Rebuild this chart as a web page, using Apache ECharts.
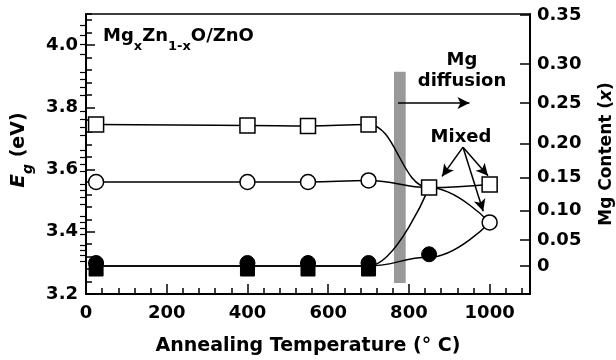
<!DOCTYPE html>
<html>
<head>
<meta charset="UTF-8">
<title>MgZnO/ZnO Eg vs annealing</title>
<script src="https://cdn.jsdelivr.net/npm/echarts@6/dist/echarts.min.js"></script>
</head>
<body style="margin:0">
<div id="main" style="width:616px;height:360px;"></div>
<script type="text/javascript">
// data
var temps = [25, 400, 550, 700, 850, 1000];
var openSquare = [3.745, 3.742, 3.740, 3.745, 3.542, 3.552];
var openCircle = [3.560, 3.560, 3.560, 3.565, 3.542, 3.430];
var filledSquare = [3.290, 3.290, 3.290, 3.290, 3.542];
var filledCircle = [3.290, 3.290, 3.290, 3.290, 3.318, 3.430];
// right axis: Mg content tick labels and where they sit on the Eg scale
var mgLabels = ['0', '0.05', '0.10', '0.15', '0.20', '0.25', '0.30', '0.35'];
var mgEg = [3.290, 3.373, 3.469, 3.574, 3.683, 3.814, 3.939, 4.096];
// grey "Mg diffusion" band (temperature range, Eg range)
var bandT = [763, 792];
var bandEg = [3.235, 3.914];

var FONT = '"DejaVu Sans", Verdana, sans-serif';

function pts(vals, hidden) {
    var out = [];
    for (var i = 0; i < vals.length; i++) {
        var d = { value: [temps[i], vals[i]] };
        if (hidden.indexOf(i) >= 0) d.symbol = 'none';
        out.push(d);
    }
    return out;
}

// minor ticks on the Mg axis: 4 between each pair of labels
var mgMinor = [];
for (var i = 0; i < mgEg.length - 1; i++) {
    for (var k = 1; k < 5; k++) {
        mgMinor.push(mgEg[i] + (mgEg[i + 1] - mgEg[i]) * k / 5);
    }
}

var myChart = echarts.init(document.getElementById('main'));

var lineBase = {
    type: 'line',
    smooth: 0.45,
    smoothMonotone: 'x',
    symbolSize: 15,
    lineStyle: { color: '#000', width: 1.5 },
    emphasis: { disabled: true },
    animation: false
};

// ticks point into the plot (negative length flips them inward)
function tick(len, w) {
    return { show: true, inside: false, length: -len, lineStyle: { color: '#000', width: w || 1.5 } };
}
var blackLine = { show: true, onZero: false, lineStyle: { color: '#000', width: 2 } };
var labelStyle = { color: '#000', fontFamily: FONT, fontWeight: 'bold', fontSize: 18 };

var option = {
    animation: false,
    grid: { left: 86, right: 86, top: 14, bottom: 66, outerBoundsMode: 'none', containLabel: false },
    xAxis: [{
        type: 'value', min: 0, max: 1100, interval: 200, position: 'bottom',
        axisLine: blackLine,
        axisTick: tick(10),
        axisLabel: Object.assign({ showMaxLabel: false, margin: 10, formatter: function (v) { return String(v); } }, labelStyle),
        splitLine: { show: false },
        name: 'Annealing Temperature (\u00b0 C)', nameLocation: 'middle', nameGap: 43,
        nameTextStyle: { color: '#000', fontFamily: FONT, fontWeight: 'bold', fontSize: 19 }
    }, {
        type: 'value', min: 0, max: 1100, interval: 40, position: 'bottom',
        axisLine: { show: false },
        axisTick: tick(6),
        axisLabel: { show: false },
        splitLine: { show: false }
    }, {
        type: 'value', min: 0, max: 1100, position: 'top',
        axisLine: { show: true, onZero: false, lineStyle: { color: '#000', width: 1.5 } },
        axisTick: { show: false },
        axisLabel: { show: false },
        splitLine: { show: false }
    }],
    yAxis: [{
        type: 'value', min: 3.2, max: 4.1, interval: 0.2, position: 'left',
        axisLine: blackLine,
        axisTick: tick(9),
        axisLabel: Object.assign({ showMaxLabel: false, margin: 8, formatter: function (v) { return v.toFixed(1); } }, labelStyle),
        splitLine: { show: false },
        name: '{e|E}{g|g}{t| (eV)}', nameLocation: 'middle', nameGap: 43, nameRotate: 90,
        nameTextStyle: {
            color: '#000', fontFamily: FONT, fontWeight: 'bold', padding: [0, 0, 0, 8],
            rich: {
                e: { fontFamily: FONT, fontWeight: 'bold', fontStyle: 'italic', fontSize: 20, lineHeight: 26, verticalAlign: 'top' },
                g: { fontFamily: FONT, fontWeight: 'bold', fontStyle: 'italic', fontSize: 14, lineHeight: 18, verticalAlign: 'bottom' },
                t: { fontFamily: FONT, fontWeight: 'bold', fontSize: 19, lineHeight: 26, verticalAlign: 'top' }
            }
        }
    }, {
        type: 'value', min: 3.2, max: 4.1, interval: 0.04, position: 'left',
        axisLine: { show: false },
        axisTick: tick(6),
        axisLabel: { show: false },
        splitLine: { show: false }
    }, {
        type: 'value', min: 3.2, max: 4.1, position: 'right',
        axisLine: blackLine,
        axisTick: Object.assign(tick(10), { customValues: mgEg }),
        axisLabel: Object.assign({
            customValues: mgEg, margin: 7,
            formatter: function (v) {
                var best = 0;
                for (var i = 1; i < mgEg.length; i++) {
                    if (Math.abs(mgEg[i] - v) < Math.abs(mgEg[best] - v)) best = i;
                }
                return mgLabels[best];
            }
        }, labelStyle),
        splitLine: { show: false },
        name: '{t|Mg Content (}{x|x}{t|)}', nameLocation: 'middle', nameGap: 68, nameRotate: 90,
        nameTextStyle: {
            color: '#000', fontFamily: FONT, fontWeight: 'bold',
            rich: {
                t: { fontFamily: FONT, fontWeight: 'bold', fontSize: 17 },
                x: { fontFamily: FONT, fontWeight: 'bold', fontStyle: 'italic', fontSize: 17 }
            }
        }
    }, {
        type: 'value', min: 3.2, max: 4.1, position: 'right',
        axisLine: { show: false },
        axisTick: Object.assign(tick(6, 1.2), { customValues: mgMinor }),
        axisLabel: { show: false },
        splitLine: { show: false }
    }],
    series: [
        {
            type: 'line', data: [], z: 1, silent: true,
            markArea: {
                silent: true,
                itemStyle: { color: '#999999', opacity: 1 },
                data: [[{ coord: [bandT[0], bandEg[1]] }, { coord: [bandT[1], bandEg[0]] }]]
            },
            markLine: {
                silent: true, symbol: ['none', 'arrow'], symbolSize: [9, 12],
                label: { show: false },
                lineStyle: { color: '#000', width: 1.5, type: 'solid' },
                data: [
                    [{ coord: [773, 3.814] }, { coord: [950, 3.814] }],
                    [{ coord: [934, 3.672] }, { coord: [882, 3.578] }],
                    [{ coord: [934, 3.672] }, { coord: [996, 3.580] }],
                    [{ coord: [934, 3.672] }, { coord: [984, 3.466] }]
                ]
            }
        },
        Object.assign({}, lineBase, {
            name: 'filled square', symbol: 'rect', symbolSize: 14, symbolOffset: [0, 3],
            itemStyle: { color: '#000', borderColor: '#000', borderWidth: 1 },
            data: pts(filledSquare, [4])
        }),
        Object.assign({}, lineBase, {
            name: 'filled circle', symbol: 'circle', symbolOffset: [0, -3],
            itemStyle: { color: '#000', borderColor: '#000', borderWidth: 1 },
            data: pts(filledCircle, [5])
        }),
        Object.assign({}, lineBase, {
            name: 'open circle', symbol: 'circle',
            itemStyle: { color: '#fff', borderColor: '#000', borderWidth: 1.5 },
            data: pts(openCircle, [4])
        }),
        Object.assign({}, lineBase, {
            name: 'open square', symbol: 'rect',
            itemStyle: { color: '#fff', borderColor: '#000', borderWidth: 1.5 },
            data: pts(openSquare, [])
        })
    ],
    graphic: [{
        type: 'text', left: 103, top: 27,
        style: {
            text: '{m|Mg}{s|x}{m|Zn}{s|1-x}{m|O/ZnO}',
            fill: '#000',
            rich: {
                m: { fontFamily: FONT, fontWeight: 'bold', fontSize: 18, lineHeight: 26, verticalAlign: 'top' },
                s: { fontFamily: FONT, fontWeight: 'bold', fontSize: 13, lineHeight: 18, verticalAlign: 'bottom' }
            }
        }
    }, {
        type: 'text', x: 462, y: 50,
        style: {
            text: 'Mg\ndiffusion', fill: '#000', align: 'center', verticalAlign: 'top',
            font: 'bold 18px ' + FONT, lineHeight: 21
        }
    }, {
        type: 'text', x: 461, y: 137,
        style: {
            text: 'Mixed', fill: '#000', align: 'center', verticalAlign: 'middle',
            font: 'bold 18px ' + FONT
        }
    }]
};

myChart.setOption(option);
</script>
</body>
</html>
